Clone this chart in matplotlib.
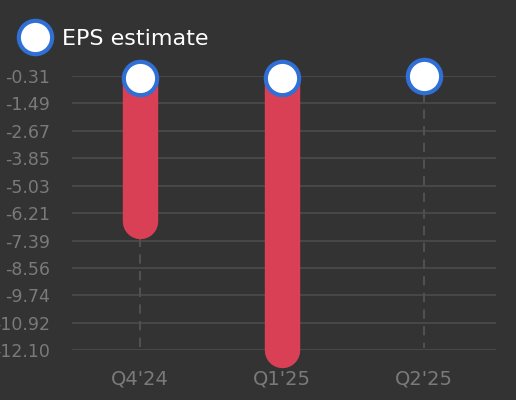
import numpy as np
import matplotlib
matplotlib.use('Agg')
import matplotlib.pyplot as plt
from matplotlib.lines import Line2D

quarters = ["Q4'24", "Q1'25", "Q2'25"]
estimate = [-0.38, -0.38, -0.31]
actual = [-6.57, -12.10, None]
yticks = [-0.31, -1.49, -2.67, -3.85, -5.03, -6.21, -7.39, -8.56, -9.74, -10.92, -12.10]

bg = '#333333'
red = '#d94055'
blue = '#2f6fd6'

fig = plt.figure(figsize=(5.16, 4.0), dpi=100, facecolor=bg)
ax = fig.add_axes([72 / 516, 1 - 350 / 400, 424 / 516, 274 / 400])
ax.set_facecolor(bg)

x = np.arange(len(quarters))
ybot = yticks[-1]

for i in range(len(quarters)):
    # dashed guide from the point down to the axis bottom
    start = actual[i] if actual[i] is not None else estimate[i]
    ax.plot([x[i], x[i]], [start, ybot + 0.08], color='#505050', lw=1.5,
            dashes=(4.5, 3.5), zorder=1)
    if actual[i] is not None:
        ax.plot([x[i], x[i]], [estimate[i], actual[i]], color=red, lw=25.5,
                solid_capstyle='round', zorder=3, clip_on=False)

ax.plot(x, estimate, 'o', ms=24, mfc='white', mec=blue, mew=3,
        ls='none', zorder=4, clip_on=False)

ax.set_xlim(-0.48, 2.51)
ax.set_ylim(ybot, yticks[0])
ax.set_yticks(yticks)
ax.set_yticklabels(['%.2f' % v for v in yticks])
ax.set_xticks(x)
ax.set_xticklabels(quarters)
ax.tick_params(axis='y', length=0, pad=16, labelsize=12.5, labelcolor='#7a7a7a')
ax.tick_params(axis='x', length=0, pad=14, labelsize=14, labelcolor='#7a7a7a')
ax.grid(axis='y', color='#474747', lw=1.5)
ax.set_axisbelow(True)
for s in ax.spines.values():
    s.set_visible(False)

h = Line2D([], [], marker='o', ms=24, mfc='white', mec=blue, mew=3, ls='none')
fig.legend(handles=[h], labels=['EPS estimate'], loc='center left',
           bbox_to_anchor=(0.025, 1 - 39 / 400), frameon=False, fontsize=16,
           labelcolor='white', handlelength=1.2, handletextpad=0.62,
           borderaxespad=0.0, borderpad=0.4)

fig.savefig('out.png', dpi=100, facecolor=bg)
